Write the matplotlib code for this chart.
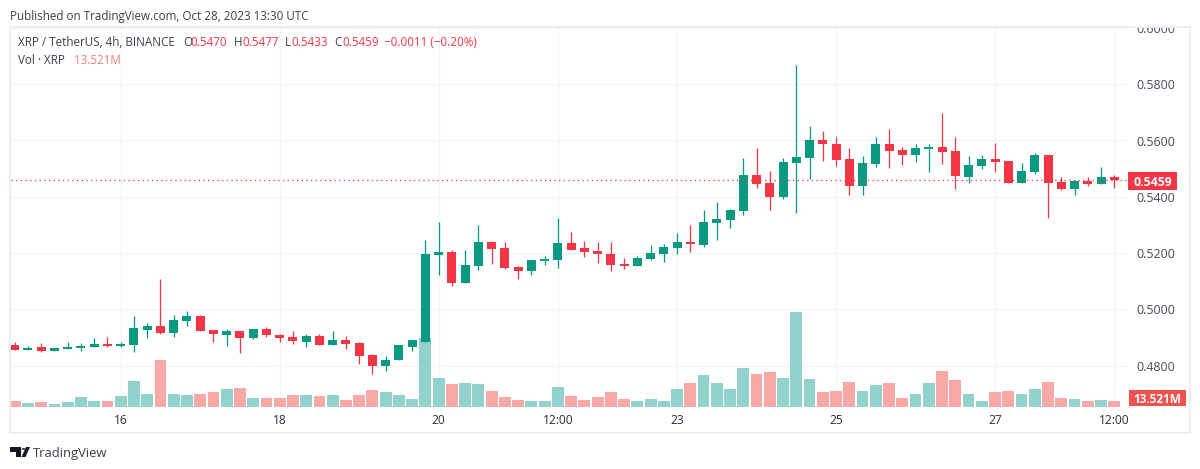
import matplotlib
matplotlib.use("Agg")
import matplotlib.pyplot as plt
from matplotlib.patches import Rectangle, Polygon, Circle
from matplotlib.transforms import Bbox

opens = [.4875,.4857,.4867,.4853,.4860,.4864,.4867,.4878,.4871,.4875,.4928,.4942,.4917,.4960,.4978,.4928,.4910,.4924,.4899,.4931,.4910,.4903,
         .4886,.4904,.4872,.4893,.4879,.4837,.4798,.4819,.4868,.4886,.5194,.5205,.5095,.5155,.5240,.5219,.5152,.5137,.5173,.5176,.5237,.5219,.5208,
         .5198,.5162,.5155,.5180,.5198,.5219,.5238,.5230,.5308,.5316,.5351,.5476,.5448,.5401,.5519,.5537,.5601,.5587,.5533,.5437,.5516,.5587,
         .5566,.5548,.5569,.5576,.5562,.5470,.5509,.5534,.5527,.5449,.5488,.5548,.5453,.5428,.5456,.5445,.5470]
highs = [.4885,.4871,.4882,.4864,.4885,.4882,.4899,.4903,.4885,.4978,.4953,.5109,.4981,.4995,.4981,.4928,.4931,.4924,.4931,.4938,.4914,.4924,
         .4911,.4911,.4925,.4904,.4883,.4840,.4833,.4872,.4893,.5247,.5311,.5212,.5212,.5300,.5244,.5240,.5155,.5176,.5191,.5325,.5276,.5244,.5240,
         .5241,.5183,.5191,.5230,.5233,.5273,.5301,.5355,.5380,.5358,.5537,.5573,.5491,.5537,.5869,.5651,.5633,.5612,.5573,.5544,.5612,.5640,
         .5576,.5587,.5587,.5697,.5612,.5545,.5548,.5591,.5527,.5520,.5555,.5548,.5470,.5456,.5470,.5506,.5477]
lows = [.4857,.4857,.4850,.4853,.4860,.4853,.4867,.4867,.4867,.4850,.4899,.4914,.4903,.4942,.4924,.4885,.4871,.4846,.4896,.4903,.4885,.4878,
        .4865,.4872,.4872,.4858,.4805,.4769,.4780,.4819,.4851,.4883,.5123,.5084,.5095,.5141,.5162,.5145,.5109,.5123,.5159,.5148,.5212,.5187,.5166,
        .5137,.5144,.5155,.5176,.5169,.5198,.5205,.5223,.5248,.5291,.5337,.5430,.5355,.5391,.5344,.5462,.5526,.5508,.5405,.5405,.5505,.5501,
        .5513,.5523,.5488,.5516,.5428,.5449,.5499,.5488,.5449,.5449,.5481,.5325,.5424,.5406,.5438,.5445,.5433]
closes = [.4857,.4864,.4853,.4864,.4867,.4871,.4878,.4871,.4878,.4935,.4942,.4917,.4963,.4978,.4924,.4914,.4924,.4899,.4931,.4910,.4899,.4889,
          .4904,.4872,.4893,.4876,.4833,.4798,.4822,.4872,.4890,.5198,.5205,.5095,.5159,.5240,.5215,.5148,.5137,.5176,.5180,.5237,.5212,.5205,.5198,
          .5159,.5155,.5183,.5201,.5223,.5241,.5233,.5312,.5323,.5355,.5476,.5444,.5401,.5523,.5541,.5601,.5587,.5530,.5437,.5519,.5587,.5562,
          .5548,.5573,.5576,.5559,.5474,.5513,.5534,.5523,.5449,.5491,.5548,.5449,.5428,.5456,.5445,.5470,.5459]
volumes = [16.2,10.8,13.5,8.1,13.5,27.0,16.2,16.2,29.7,70.2,35.1,126.9,35.1,32.4,35.1,40.5,48.6,51.3,24.3,24.3,24.3,32.4,
           32.4,29.7,32.4,18.9,32.4,45.9,40.5,32.4,21.6,186.3,78.3,62.1,64.8,62.1,43.2,27.0,18.9,16.2,16.2,54.0,29.7,18.9,27.0,
           40.5,21.6,16.2,21.6,16.2,48.6,64.8,86.4,64.8,48.6,105.3,89.1,94.5,78.3,256.5,75.6,40.5,43.2,67.5,43.2,59.4,64.8,24.3,35.1,64.8,
           97.2,72.9,35.1,16.2,40.5,43.2,35.1,48.6,67.5,24.3,21.6,13.521,18.9,13.521]
price_ticks = [0.48,0.50,0.52,0.54,0.56,0.58,0.60]
time_tick_idx = [8,20,32,41,50,62,74,83]
time_tick_labels = ["16","18","20","12:00","23","25","27","12:00"]
last_price = 0.5459
last_volume = 13.521

GREEN, RED = "#089981", "#F23645"
VGREEN, VRED = "#92D2CC", "#F7A9A7"
GRID = "#F2F3F6"
FRAME = "#ECEDF3"
TEXT = "#3D3F48"
FONT = "Open Sans"
W, H = 1200, 469
plt.rcParams["font.family"] = [FONT, "DejaVu Sans"]

def fx(x): return x / W
def fy(y): return 1 - y / H
def px(n): return n * 72 / 100

fig = plt.figure(figsize=(W/100, H/100), dpi=100, facecolor="white")
L, R, T, B = 11, 1128, 28, 406.5
axv = fig.add_axes([fx(L), fy(B), (R-L)/W, (B-T)/H])
ax = fig.add_axes([fx(L), fy(B), (R-L)/W, (B-T)/H], sharex=axv)
ax.patch.set_visible(False)
ax.set_zorder(3); axv.set_zorder(2)

n = len(opens)
xs = list(range(n))
xpx = 13.248
axv.set_xlim((L-14.7)/xpx, (R-14.7)/xpx)
ax.set_ylim(0.56-(B-140.5)/2815, 0.56-(T-140.5)/2815)
axv.set_ylim(0, (B-T)*2.7)

# grid + volume
for p in price_ticks:
    yn = (p-ax.get_ylim()[0])/(ax.get_ylim()[1]-ax.get_ylim()[0])
    axv.axhline(yn*axv.get_ylim()[1], color=GRID, lw=px(1.3), zorder=0)
for i in time_tick_idx:
    axv.axvline(i, color=GRID, lw=px(1.3), zorder=0)
vcolors = [VGREEN if c >= o else VRED for o, c in zip(opens, closes)]
axv.bar(xs, volumes, width=11.8/xpx, color=vcolors, lw=0, zorder=2)

# candles
for i, (o, h, l, c) in enumerate(zip(opens, highs, lows, closes)):
    col = GREEN if c >= o else RED
    ax.plot([i, i], [l, h], color=col, lw=px(1.3), solid_capstyle="butt", zorder=3)
    ax.add_patch(Rectangle((i-4.5/xpx, min(o, c)), 9/xpx, max(abs(c-o), 0.00018), color=col, lw=0, zorder=4))

ax.axhline(last_price, color=RED, lw=px(1.3), linestyle=(0, (1, 2.6)), zorder=5)

for a in (ax, axv):
    for s in a.spines.values():
        s.set_visible(False)
axv.tick_params(left=False, right=False, labelleft=False, labelright=False, bottom=False, labelbottom=False)
axv.set_yticks([])
ax.set_yticks(price_ticks)
ax.set_yticklabels([f"{p:.4f}" for p in price_ticks])
ax.yaxis.tick_right()
ax.tick_params(axis="y", length=0, pad=px(8), labelsize=px(12.4), labelcolor="#4A4C55")
ax.set_xticks(time_tick_idx)
ax.set_xticklabels(time_tick_labels)
ax.tick_params(axis="x", length=0, pad=px(7), labelsize=px(12), labelcolor="#2A2E39", labelbottom=True)
clip = Bbox([[0, 0], [W, H-T+0.5]])
for lb in ax.get_yticklabels():
    lb.set_clip_box(clip); lb.set_clip_on(True)

# frame
fig.add_artist(Rectangle((fx(10), fy(433)), 1180/W, 406/H, transform=fig.transFigure, fill=False, ec=FRAME, lw=px(2)))

def box(x0, x1, y0, y1, color, label, size):
    fig.add_artist(Rectangle((fx(x0), fy(y1)), (x1-x0)/W, (y1-y0)/H, transform=fig.transFigure, fc=color, ec="none"))
    fig.text(fx((x0+x1)/2), fy((y0+y1)/2), label, color="white", fontsize=px(size), fontweight="bold", ha="center", va="center_baseline")
box(1128, 1177, 172, 189.5, RED, f"{last_price:.4f}", 12.2)
box(1128.5, 1186, 390, 406, "#EF5350", f"{last_volume:.3f}M", 11.8)

def t(x, y, s, color=TEXT, size=11.6):
    fig.text(fx(x), fy(y), s, color=color, fontsize=px(size), ha="left", va="center_baseline")

t(10, 15, "Published on TradingView.com, Oct 28, 2023 13:30 UTC")
t(18, 41, "XRP / TetherUS, 4h, BINANCE")
t(183, 41, "O"); t(190.7, 41, f"{opens[-1]:.4f}", RED)
t(233.7, 41, "H"); t(242, 41, f"{highs[-1]:.4f}", RED)
t(285, 41, "L"); t(291, 41, f"{lows[-1]:.4f}", RED)
t(334, 41, "C"); t(342, 41, f"{closes[-1]:.4f}", RED)
t(384, 41, "\u22120.0011 (\u22120.20%)", RED)
t(18, 59, "Vol \u00b7 XRP")
t(74, 59, f"{last_volume:.3f}M", "#F77C80")

# logo
logo = "#131722"
fig.add_artist(Polygon([(fx(a), fy(b)) for a, b in [(10,447),(21,447),(21,457),(15.5,457),(15.5,451.5),(10,451.5)]], transform=fig.transFigure, fc=logo, ec="none"))
fig.add_artist(Circle((fx(23.5), fy(449)), 2/W, transform=fig.transFigure, fc=logo, ec="none"))
fig.add_artist(Polygon([(fx(a), fy(b)) for a, b in [(26,447),(30,447),(25.5,457),(21.5,457)]], transform=fig.transFigure, fc=logo, ec="none"))
fig.text(fx(33), fy(451.5), "TradingView", color="#3D3F48", fontsize=px(13), ha="left", va="center_baseline")

fig.savefig("out.png", dpi=100)
